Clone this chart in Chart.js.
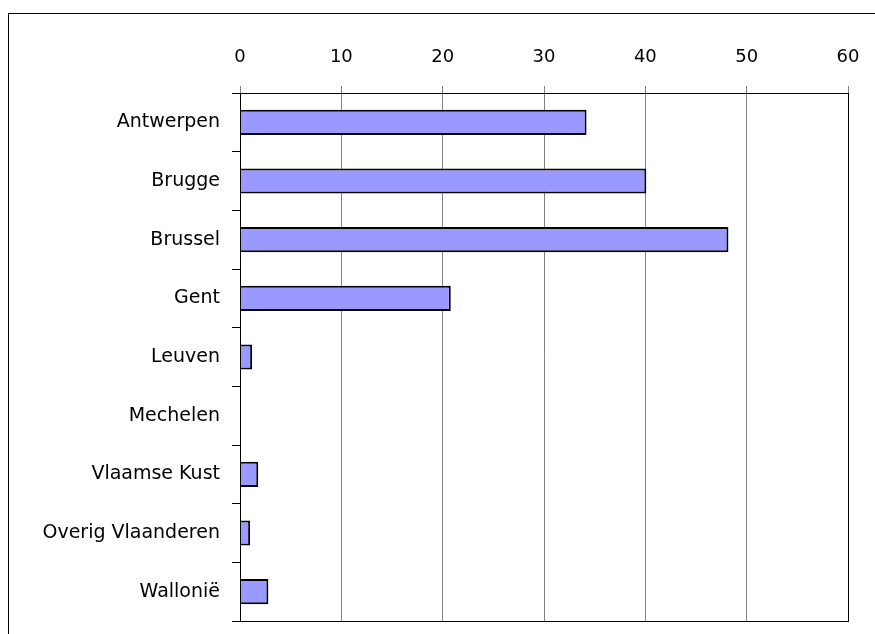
<!DOCTYPE html>
<html>
<head>
<meta charset="utf-8">
<script src="https://cdn.jsdelivr.net/npm/chart.js@4"></script>
<style>
html,body{margin:0;padding:0;background:#fff;overflow:hidden;}
#frame{position:absolute;left:8px;top:13px;width:1000px;height:1000px;border:1px solid #000;}
#wrap{position:absolute;left:0;top:0;width:875px;height:634px;}
</style>
</head>
<body>
<div id="frame"></div>
<div id="wrap"><canvas id="c" width="875" height="634"></canvas></div>
<script>
// regions and values
const regions=["Antwerpen","Brugge","Brussel","Gent","Leuven","Mechelen","Vlaamse Kust","Overig Vlaanderen","Wallonië"];
const values=[34.2,40.1,48.2,20.8,1.2,0,1.8,1.0,2.8];
const xMin=0, xMax=60, xStep=10;

/* black box round the plot area */
const plotFrame={
id:"plotFrame",
afterDraw(chart){
const a=chart.chartArea, g=chart.ctx;
g.save();
g.strokeStyle="#000";
g.lineWidth=1;
g.strokeRect(Math.round(a.left)+0.5,Math.round(a.top)+0.5,Math.round(a.right-a.left),Math.round(a.bottom-a.top));
g.restore();
}
};

new Chart(document.getElementById("c"),{
type:"bar",
data:{
labels:regions,
datasets:[{
data:values,
backgroundColor:"#9999ff",
borderColor:"#000",
borderWidth:2,
barPercentage:0.43,
categoryPercentage:1
}]
},
options:{
indexAxis:"y",
responsive:false,
animation:false,
layout:{padding:{left:0,top:0,right:27,bottom:13}},
plugins:{legend:{display:false},tooltip:{enabled:false}},
scales:{
x:{
position:"top",
min:xMin,max:xMax,
ticks:{stepSize:xStep,color:"#000",padding:18,font:{family:"DejaVu Sans",size:18}},
grid:{color:"#808080",tickLength:7,tickColor:"#808080"},
border:{color:"#000"},
afterFit(s){s.height=93;s.paddingLeft=0;s.paddingRight=0;}
},
y:{
ticks:{color:"#000",padding:12,font:{family:"DejaVu Sans",size:19}},
grid:{offset:true,drawOnChartArea:false,tickLength:8,tickColor:"#000"},
border:{color:"#000"},
afterFit(s){s.width=240;s.paddingTop=0;s.paddingBottom=0;}
}
}
},
plugins:[plotFrame]
});
</script>
</body>
</html>
